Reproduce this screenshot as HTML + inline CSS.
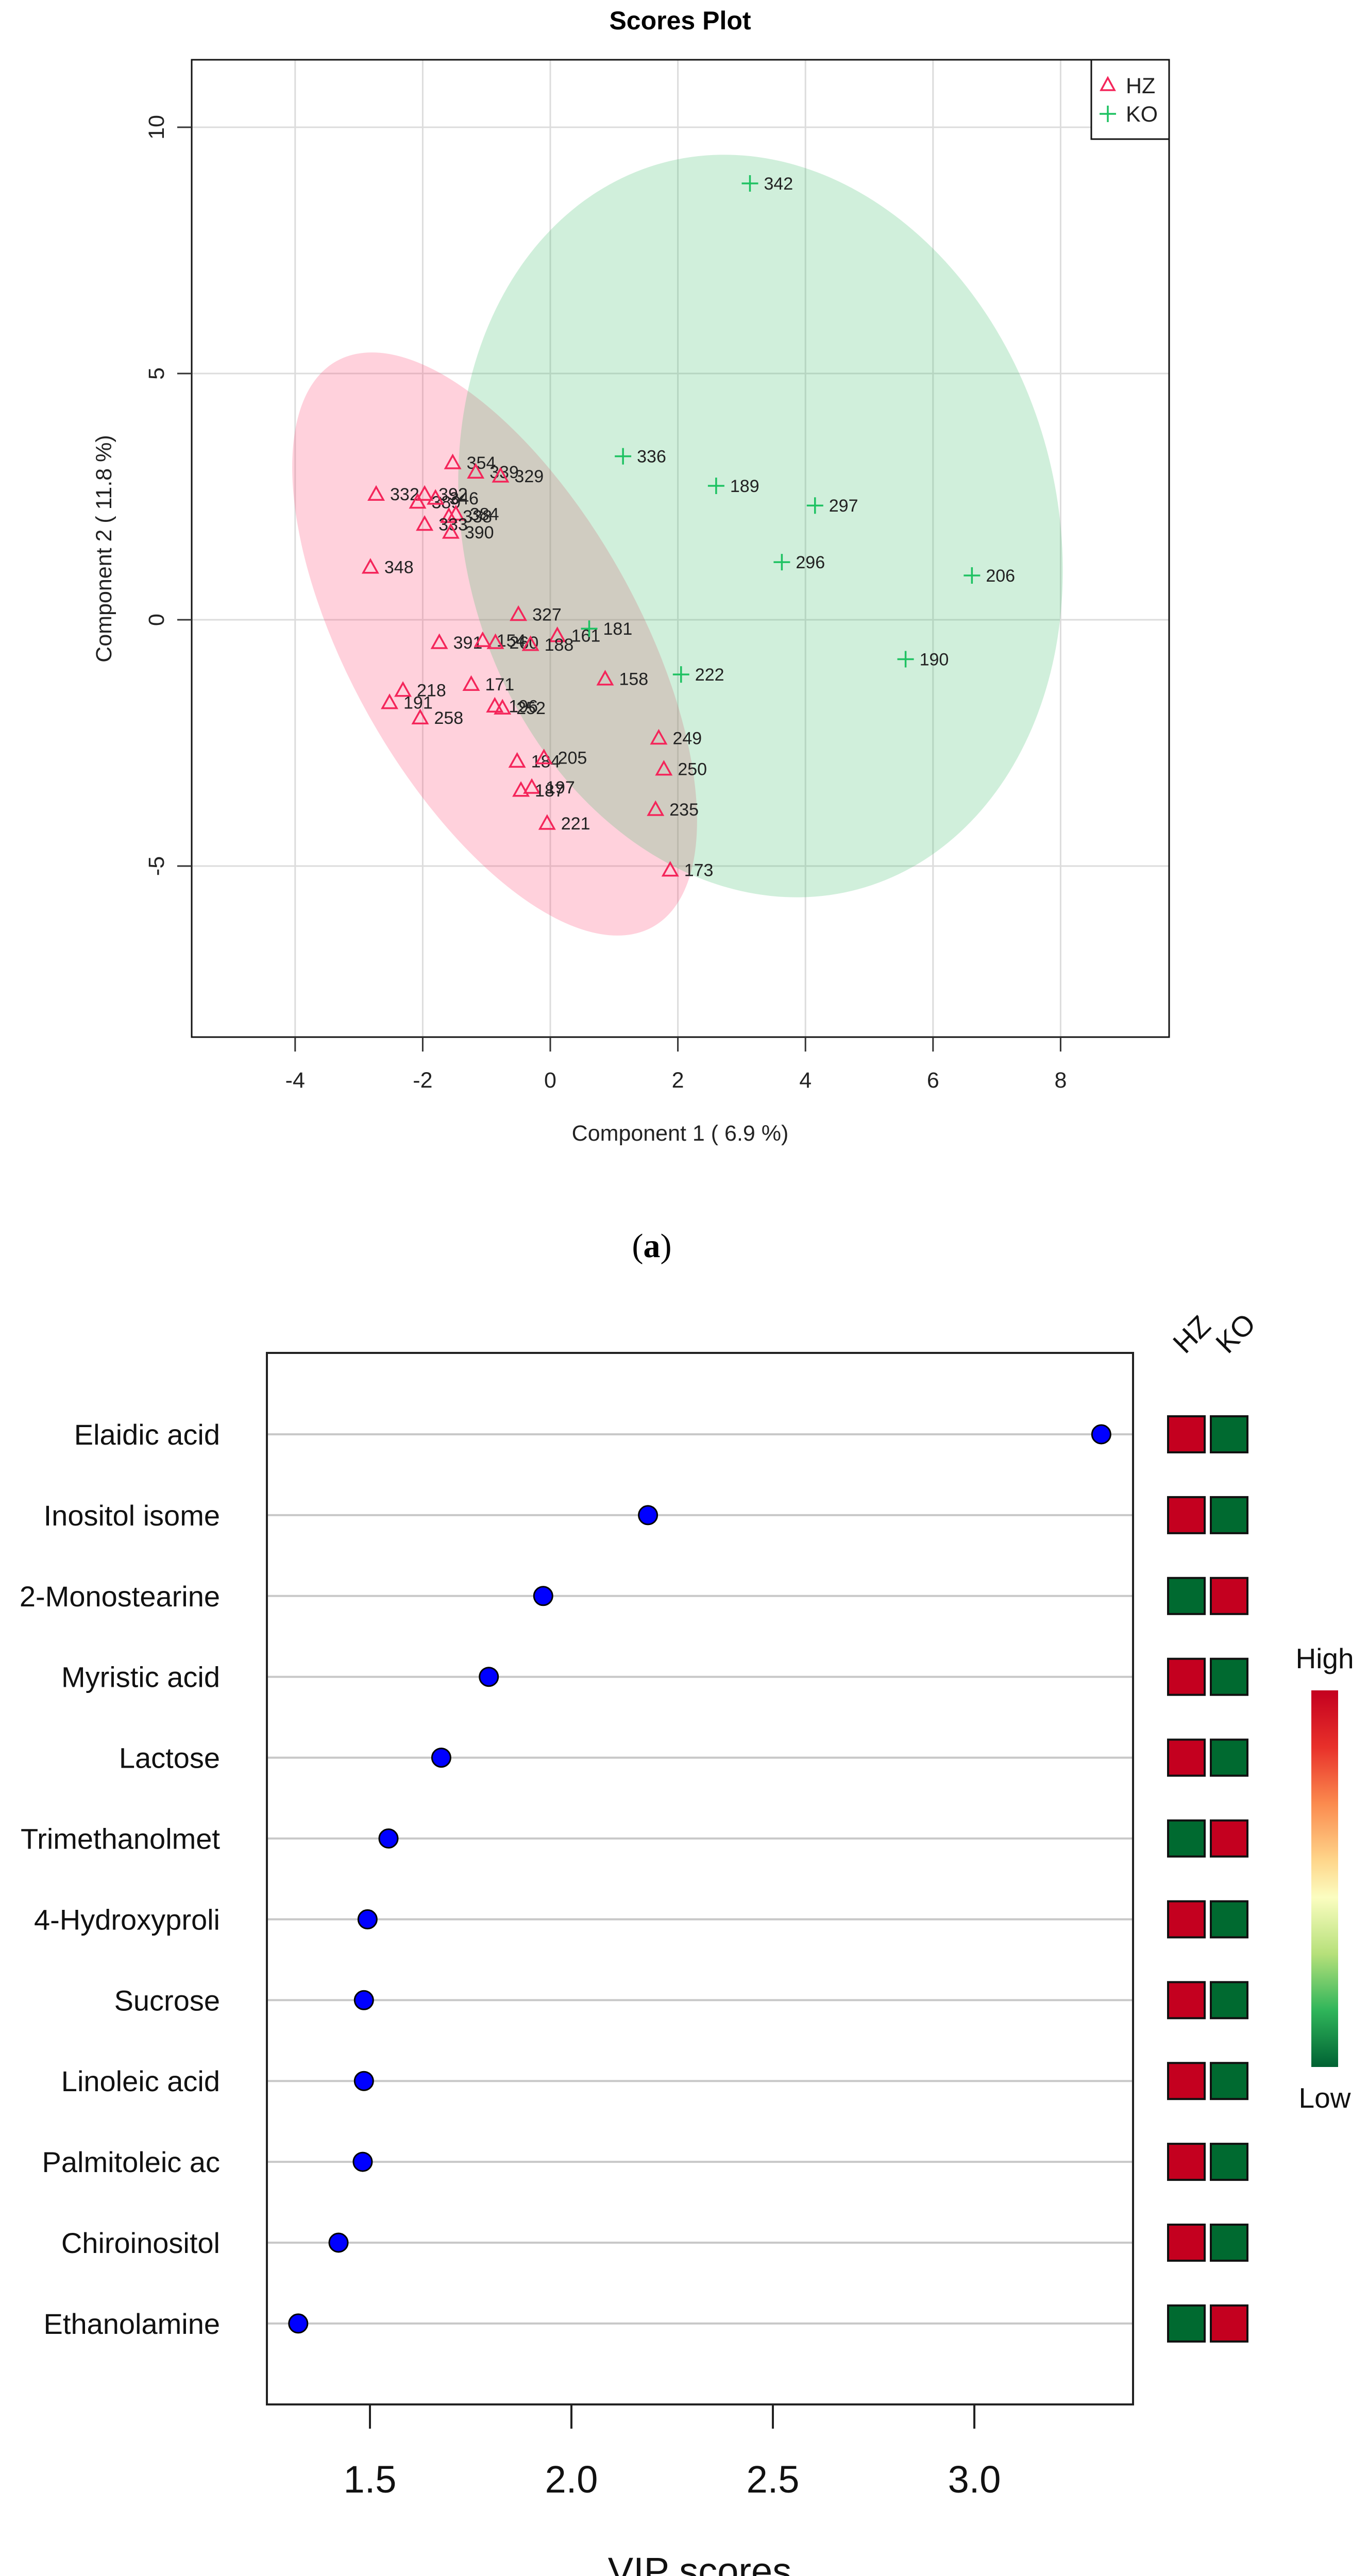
<!DOCTYPE html>
<html><head><meta charset="utf-8"><style>
html,body{margin:0;padding:0;background:#fff;width:2655px;height:5217px;overflow:hidden;}
svg{display:block;font-family:"Liberation Sans",sans-serif;overflow:hidden;}
</style></head><body>
<svg id="fig" width="2655" height="5217" viewBox="0 0 2655 5217" xmlns="http://www.w3.org/2000/svg">
<g id="pa"></g>
<g id="pb"></g>
</svg>
<script>
// ---------- Panel A data ----------
const hzLabels = ["354","339","329","332","392","389","346","338","384","333","390","348","327","391","154","260","161","188","158","171","218","191","258","196","252","249","250","184","205","197","187","235","221","173"];
const hzX = [-1.53,-1.17,-0.78,-2.73,-1.97,-2.08,-1.80,-1.59,-1.48,-1.97,-1.56,-2.82,-0.50,-1.74,-1.06,-0.86,0.11,-0.31,0.86,-1.24,-2.31,-2.52,-2.04,-0.87,-0.75,1.70,1.78,-0.52,-0.10,-0.29,-0.46,1.65,-0.05,1.88];
const hzY = [3.19,3.0,2.92,2.55,2.55,2.39,2.47,2.10,2.15,1.94,1.78,1.07,0.11,-0.46,-0.42,-0.46,-0.32,-0.50,-1.20,-1.31,-1.43,-1.68,-1.99,-1.75,-1.79,-2.40,-3.03,-2.87,-2.80,-3.40,-3.46,-3.85,-4.13,-5.08];
const koLabels = ["342","336","189","297","296","206","181","222","190"];
const koX = [3.13,1.14,2.60,4.15,3.63,6.61,0.61,2.05,5.57];
const koY = [8.86,3.32,2.72,2.32,1.17,0.90,-0.18,-1.11,-0.80];
const xTicksA = [-4,-2,0,2,4,6,8];
const yTicksA = [-5,0,5,10];
// ---------- Panel B data ----------
const compounds = ["Elaidic acid","Inositol isome","2-Monostearine","Myristic acid","Lactose","Trimethanolmet","4-Hydroxyproli","Sucrose","Linoleic acid","Palmitoleic ac","Chiroinositol","Ethanolamine"];
const vip = [3.315,2.19,1.93,1.795,1.677,1.546,1.494,1.485,1.485,1.482,1.422,1.322];
const hzHigh = [1,1,0,1,1,0,1,1,1,1,1,0];
const koHigh = [0,0,1,0,0,1,0,0,0,0,0,1];
const xTicksB = [1.5,2.0,2.5,3.0];

const NS="http://www.w3.org/2000/svg";
function mk(parent,tag,attrs,text){const e=document.createElementNS(NS,tag);for(const k in attrs)e.setAttribute(k,attrs[k]);if(text!==undefined)e.textContent=text;parent.appendChild(e);return e;}

// ---------- Panel A ----------
const A=document.getElementById('pa');
const ax={l:372,r:2269,t:116,b:2013};
const sx=v=>1068+v*123.8;
const sy=v=>1203-v*95.6;
let e;
e=mk(A,'text',{x:1320,y:57,'text-anchor':'middle','font-size':50,'font-weight':'bold'},'Scores Plot');


xTicksA.forEach(t=>{e=mk(A,'line',{x1:sx(t),x2:sx(t),y1:ax.t,y2:ax.b,stroke:'#dcdcdc','stroke-width':3});

});
yTicksA.forEach(t=>{e=mk(A,'line',{x1:ax.l,x2:ax.r,y1:sy(t),y2:sy(t),stroke:'#dcdcdc','stroke-width':3});

});
e=mk(A,'ellipse',{cx:960,cy:1250,rx:629,ry:281,transform:'rotate(60.8 960 1250)',fill:'rgb(255,71,115)','fill-opacity':0.25});


e=mk(A,'ellipse',{cx:1476,cy:1021,rx:575,ry:730,transform:'rotate(-15 1476 1021)',fill:'rgb(67,191,111)','fill-opacity':0.25});


hzX.forEach((v,i)=>{const cx=sx(v),cy=sy(hzY[i]);
e=mk(A,'path',{d:`M${cx},${cy-14} L${cx-14},${cy+11} L${cx+14},${cy+11} Z`,fill:'none',stroke:'#f4255a','stroke-width':3.5});


e=mk(A,'text',{x:cx+27,y:cy+12,'font-size':34,fill:'#222'},hzLabels[i]);

});
koX.forEach((v,i)=>{const cx=sx(v),cy=sy(koY[i]);
e=mk(A,'path',{d:`M${cx-16},${cy} H${cx+16} M${cx},${cy-16} V${cy+16}`,stroke:'#1ec262','stroke-width':3.5,fill:'none'});


e=mk(A,'text',{x:cx+27,y:cy+12,'font-size':34,fill:'#222'},koLabels[i]);

});
e=mk(A,'rect',{x:ax.l,y:ax.t,width:ax.r-ax.l,height:ax.b-ax.t,fill:'none',stroke:'#111','stroke-width':3});


xTicksA.forEach(t=>{mk(A,'line',{x1:sx(t),x2:sx(t),y1:ax.b,y2:ax.b+28,stroke:'#333','stroke-width':3});
e=mk(A,'text',{x:sx(t),y:2111,'text-anchor':'middle','font-size':43,fill:'#222'},String(t));

});
yTicksA.forEach(t=>{mk(A,'line',{x1:ax.l-28,x2:ax.l,y1:sy(t),y2:sy(t),stroke:'#333','stroke-width':3});
e=mk(A,'text',{x:0,y:0,transform:`translate(318 ${sy(t)}) rotate(-90)`,'text-anchor':'middle','font-size':43,fill:'#222'},String(t));

});
e=mk(A,'text',{x:1320,y:2214,'text-anchor':'middle','font-size':43,fill:'#222'},'Component 1 ( 6.9 %)');


e=mk(A,'text',{x:0,y:0,transform:'translate(216 1065) rotate(-90)','text-anchor':'middle','font-size':43,fill:'#222'},'Component 2 ( 11.8 %)');


e=mk(A,'rect',{x:2118,y:ax.t,width:ax.r-2118,height:154,fill:'#fff',stroke:'#111','stroke-width':3});


e=mk(A,'path',{d:'M2150,151 L2137,175 L2163,175 Z',fill:'none',stroke:'#f4255a','stroke-width':3.5});


e=mk(A,'text',{x:2185,y:181,'font-size':43,fill:'#222'},'HZ');


e=mk(A,'path',{d:'M2134,221 H2166 M2150,205 V237',stroke:'#1ec262','stroke-width':3.5});


e=mk(A,'text',{x:2185,y:236,'font-size':43,fill:'#222'},'KO');


e=mk(A,'text',{x:1265,y:2440,'text-anchor':'middle','font-size':66,'font-family':'Liberation Serif, serif'},'');


mk(e,'tspan',{},'(');mk(e,'tspan',{'font-weight':'bold'},'a');mk(e,'tspan',{},')');

// ---------- Panel B ----------
const B=document.getElementById('pb');
const bx={l:518,r:2199,t:2626,b:4667};
const vx=v=>718+(v-1.5)*782;
const ry=i=>2784+i*156.9;
compounds.forEach((c,i)=>{const y=ry(i);
e=mk(B,'line',{x1:bx.l,x2:bx.r,y1:y,y2:y,stroke:'#c8c8c8','stroke-width':4});


e=mk(B,'text',{x:427,y:y+20,'text-anchor':'end','font-size':56,fill:'#111'},c);


e=mk(B,'circle',{cx:vx(vip[i]),cy:y,r:18,fill:'#0000ff',stroke:'#000','stroke-width':3});


const red='#c4001f',grn='#006a30';
e=mk(B,'rect',{x:2267,y:y-35,width:71,height:70,fill:hzHigh[i]?red:grn,stroke:'#111','stroke-width':4});


e=mk(B,'rect',{x:2350,y:y-35,width:71,height:70,fill:koHigh[i]?red:grn,stroke:'#111','stroke-width':4});


});
e=mk(B,'rect',{x:bx.l,y:bx.t,width:bx.r-bx.l,height:bx.b-bx.t,fill:'none',stroke:'#222','stroke-width':4});


xTicksB.forEach(t=>{mk(B,'line',{x1:vx(t),x2:vx(t),y1:bx.b,y2:bx.b+47,stroke:'#222','stroke-width':4});
e=mk(B,'text',{x:vx(t),y:4838,'text-anchor':'middle','font-size':74,fill:'#111'},t.toFixed(1));

});
e=mk(B,'text',{x:1358,y:5016,'text-anchor':'middle','font-size':74,fill:'#111'},'VIP scores');


e=mk(B,'text',{x:0,y:0,transform:'translate(2300 2630) rotate(-45)','font-size':56,fill:'#111'},'HZ');


e=mk(B,'text',{x:0,y:0,transform:'translate(2383 2630) rotate(-45)','font-size':56,fill:'#111'},'KO');


const defs=mk(B,'defs',{});
const lg=mk(defs,'linearGradient',{id:'rdylgn',x1:0,y1:0,x2:0,y2:1});
[['0','#c4001f'],['0.15','#e8302a'],['0.3','#fb8a4e'],['0.45','#fed58a'],['0.55','#fbfdc0'],['0.7','#b6e07a'],['0.85','#2fb55a'],['1','#006233']].forEach(s=>mk(lg,'stop',{offset:s[0],'stop-color':s[1]}));
e=mk(B,'rect',{x:2545,y:3281,width:52,height:731,fill:'url(#rdylgn)'});


e=mk(B,'text',{x:2571,y:3238,'text-anchor':'middle','font-size':55,fill:'#111'},'High');


e=mk(B,'text',{x:2571,y:4091,'text-anchor':'middle','font-size':55,fill:'#111'},'Low');


e=mk(B,'text',{x:1265,y:5190,'text-anchor':'middle','font-size':66,'font-family':'Liberation Serif, serif'},'');


mk(e,'tspan',{},'(');mk(e,'tspan',{'font-weight':'bold'},'b');mk(e,'tspan',{},')');
</script>
</body></html>
